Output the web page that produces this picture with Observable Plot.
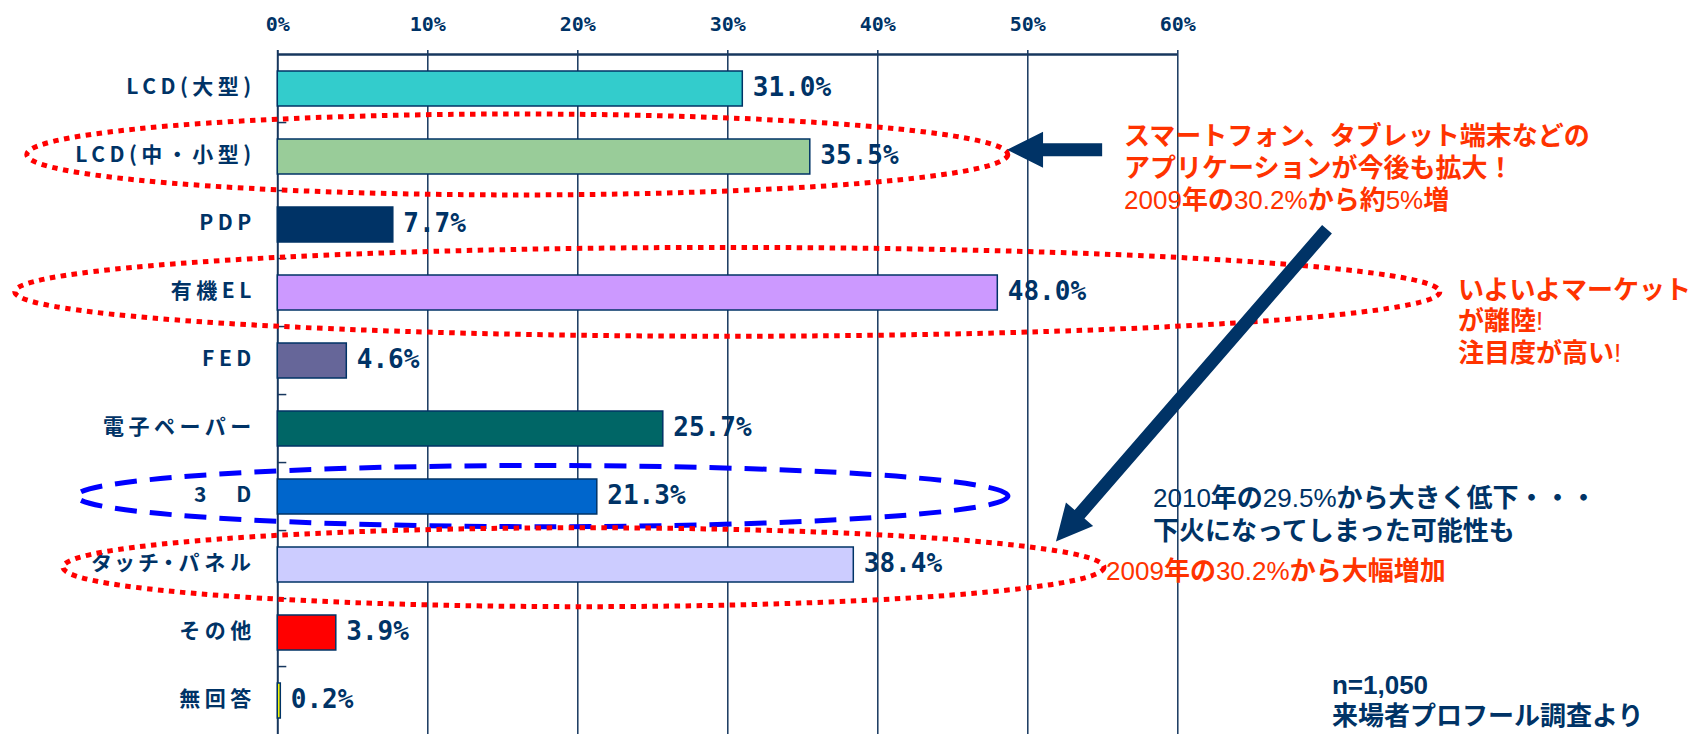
<!DOCTYPE html>
<html><head><meta charset="utf-8">
<script src="https://cdn.jsdelivr.net/npm/d3@7"></script>
<script src="https://cdn.jsdelivr.net/npm/@observablehq/plot@0.6"></script>
<style>
html,body{margin:0;padding:0;background:#fff;overflow:hidden;}
#chart svg{display:block;}
g[aria-label="y-axis tick label"] text{letter-spacing:4.5px;}
g[aria-label="y-axis tick label"] text:nth-child(8){font-feature-settings:"palt";letter-spacing:5px;}
</style></head><body><div id="chart"></div>
<script>
// ---- data ----
const categories = ["LCD(大型)","LCD(中・小型)","PDP","有機EL","FED","電子ペーパー","3　D","タッチ・パネル","その他","無回答"];
const values = [31.0, 35.5, 7.7, 48.0, 4.6, 25.7, 21.3, 38.4, 3.9, 0.2];
const barColors = ["#33CCCC","#99CC99","#003366","#CC99FF","#666699","#006666","#0066CC","#CCCCFF","#FF0000","#FFFF00"];
const xTicks = [0, 10, 20, 30, 40, 50, 60];

// annotation shapes: x in %, y in category-index units
const ellipses = [
  {cx: 16.0, cy: 0.97, rx: 32.7, ry: 0.595, kind: "dot"},
  {cx: 30.0, cy: 2.99, rx: 47.5, ry: 0.653, kind: "dot"},
  {cx: 17.66, cy: 5.994, rx: 31.05, ry: 0.45, kind: "dash"},
  {cx: 20.41, cy: 7.04, rx: 34.7, ry: 0.58, kind: "dot"}
];
const arrows = [
  {x1: 54.99, y1: 0.90, x2: 48.65, y2: 0.90},
  {x1: 69.98, y1: 2.07, x2: 51.91, y2: 6.66}
];
const notes = [
  {x: 56.45, y: 0.835, gap: 31.7, color: "#FF3300", lines: ["スマートフォン、タブレット端末などの", "アプリケーションが今後も拡大！", "2009年の30.2%から約5%増"]},
  {x: 78.71, y: 3.09, gap: 31.5, color: "#FF3300", lines: ["いよいよマーケット", "が離陸!", "注目度が高い!"]},
  {x: 58.38, y: 6.154, gap: 33.5, color: "#003366", lines: ["2010年の29.5%から大きく低下・・・", "下火になってしまった可能性も"]},
  {x: 55.25, y: 7.228, gap: 0, color: "#FF3300", lines: ["2009年の30.2%から大幅増加"]},
  {x: 70.31, y: 8.90, gap: 31, color: "#003366", latinBold: true, lines: ["n=1,050", "来場者プロフール調査より"]}
];

// ---- layout / style ----
const navy = "#003366", grid = "#17375E";
const monoFont = "'DejaVu Sans Mono', 'Liberation Mono', monospace";
const W = 1697, H = 734, TOP = 50, STEP = 68.87, LEFT = 277.3, RIGHT = 1697 - 1177.3;
const data = categories.map((name, i) => ({name, value: values[i], color: barColors[i]}));

function annotate(index, scales) {
  const x = scales.x, y = scales.y;
  const bw = y.bandwidth ? y.bandwidth() : 0;
  const c0 = y(categories[0]) + bw / 2;
  const step = y(categories[1]) - y(categories[0]);
  const Y = t => c0 + t * step;
  const X = v => x(v);
  const g = d3.create("svg:g").attr("aria-label", "annotations");
  for (const e of ellipses) {
    const cx = X(e.cx), rx = X(e.cx + e.rx) - cx;
    g.append("ellipse")
      .attr("cx", cx).attr("cy", Y(e.cy)).attr("rx", rx).attr("ry", e.ry * step)
      .attr("fill", "none")
      .attr("stroke", e.kind === "dot" ? "#FF0000" : "#0000FF")
      .attr("stroke-width", 5)
      .attr("stroke-dasharray", e.kind === "dot" ? "5.5 5.5" : "22 13");
  }
  for (const a of arrows) {
    const tx = X(a.x1), ty = Y(a.y1), px = X(a.x2), py = Y(a.y2);
    const len = Math.hypot(px - tx, py - ty);
    const ux = (px - tx) / len, uy = (py - ty) / len;
    const nx = -uy, ny = ux;
    const w = 13, hl = 36, hw = 36;
    const bx = px - ux * hl, by = py - uy * hl;
    const pts = [
      [tx + nx * w / 2, ty + ny * w / 2],
      [bx + nx * w / 2, by + ny * w / 2],
      [bx + nx * hw / 2, by + ny * hw / 2],
      [px, py],
      [bx - nx * hw / 2, by - ny * hw / 2],
      [bx - nx * w / 2, by - ny * w / 2],
      [tx - nx * w / 2, ty - ny * w / 2]
    ];
    g.append("polygon").attr("points", pts.map(p => p.join(",")).join(" ")).attr("fill", navy);
  }
  for (const n of notes) {
    n.lines.forEach((line, li) => {
      const t = g.append("text")
        .attr("x", X(n.x)).attr("y", Y(n.y) + li * n.gap)
        .attr("text-anchor", "start")
        .attr("fill", n.color).attr("font-size", 26);
      for (const part of line.match(/[\x00-\x7F]+|[^\x00-\x7F]+/g)) {
        const latin = /^[\x00-\x7F]+$/.test(part);
        t.append("tspan").text(part)
          .attr("font-family", latin ? "'Liberation Sans', Arial, sans-serif" : "'Noto Sans CJK JP', sans-serif")
          .attr("font-weight", latin ? (n.latinBold ? "bold" : "normal") : "bold");
      }
    });
  }
  return g.node();
}

const plot = Plot.plot({
  width: W, height: H,
  marginTop: TOP, marginLeft: LEFT, marginRight: RIGHT, marginBottom: 0,
  x: {domain: [0, 60]},
  y: {domain: categories, range: [TOP, TOP + STEP * categories.length], paddingInner: 0.49, paddingOuter: 0.245},
  color: {type: "identity"},
  marks: [
    Plot.ruleX(xTicks.slice(1), {stroke: grid, strokeWidth: 1.5}),
    Plot.ruleX([0], {stroke: grid, strokeWidth: 2}),
    Plot.ruleY([categories[0]], {x1: 0, x2: 60, dy: -STEP / 2, stroke: grid, strokeWidth: 2.5}),
    Plot.ruleY(categories.slice(1), {x1: 0, x2: 0.6, dy: -STEP / 2, stroke: grid, strokeWidth: 1.5}),
    Plot.barX(data, {x: "value", y: "name", fill: "color", stroke: navy, strokeWidth: 1.5}),
    Plot.text(data, {x: "value", y: "name", text: d => d.value.toFixed(1) + "%", dx: 10, dy: -1,
      textAnchor: "start", fill: navy, fontSize: 26, fontWeight: "bold", fontFamily: monoFont}),
    Plot.axisX({anchor: "top", ticks: xTicks, tickSize: 0, tickPadding: 20, label: null,
      tickFormat: d => d + "%", fill: navy, fontSize: 20, fontWeight: "bold", fontFamily: monoFont}),
    Plot.axisY({tickSize: 0, tickPadding: 22, label: null, fill: navy, fontSize: 21, fontWeight: "bold", dy: -2,
      fontFamily: "'Noto Sans CJK JP', sans-serif"}),
    annotate
  ]
});
document.getElementById("chart").appendChild(plot);
</script>
</body></html>
